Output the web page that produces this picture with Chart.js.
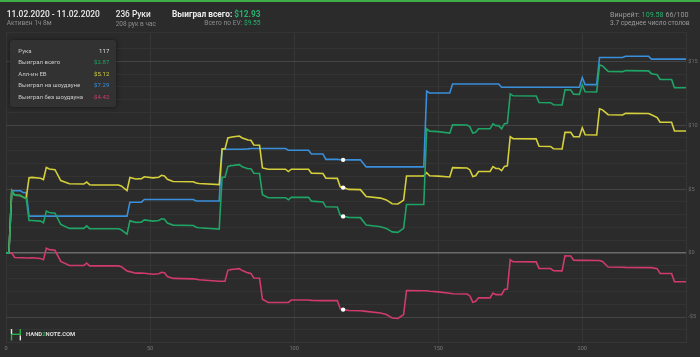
<!DOCTYPE html>
<html><head><meta charset="utf-8">
<script src="https://cdn.jsdelivr.net/npm/chart.js@4/dist/chart.umd.min.js"></script>
<style>
html,body{margin:0;padding:0;background:#2b2b2b;}
#wrap{position:relative;width:700px;height:357px;overflow:hidden;background:#2b2b2b;font-family:Roboto,"Noto Sans",sans-serif;}
#c{position:absolute;left:0;top:0;}
#topbar{position:absolute;left:0;top:0;width:700px;height:2px;background:#3fae49;}
.t{position:absolute;white-space:nowrap;line-height:1;}
.big{font-size:9px;color:#ececec;font-weight:500;}
.bold{font-weight:bold;}
.sm{font-size:6.6px;color:#8c8c8c;}
.rt{font-size:7px;color:#9a9a9a;}
.g{color:#25b06d;}
#tip{position:absolute;left:10px;top:40px;width:106px;height:67px;box-sizing:border-box;padding:5px 6.7px 0 8.3px;background:#323232;border-radius:3px;box-shadow:0 0 5px rgba(0,0,0,0.45);font-size:6.2px;color:#c8c8c8;white-space:nowrap;overflow:hidden;}
#tip .row{display:flex;justify-content:space-between;height:11.4px;line-height:11.4px;white-space:nowrap;}
#tip .row span{white-space:nowrap;flex:none;}
#logo{position:absolute;left:10px;top:329px;}
#logotext{position:absolute;left:26px;top:332px;font-size:6px;font-weight:bold;color:#dcdcdc;line-height:1;}
#measure{position:absolute;left:0;top:0;visibility:hidden;white-space:nowrap;font-size:10px;}
</style></head>
<body>
<div id="wrap">
<canvas id="c" width="700" height="357"></canvas>
<div id="topbar"></div>
<div class="t big" id="dateTxt">11.02.2020 - 11.02.2020</div>
<div class="t sm" id="actTxt">Активен 1ч 8м</div>
<div class="t big" id="handsTxt">236 Руки</div>
<div class="t sm" id="rateTxt">208 рук в час</div>
<div class="t big bold" id="totalTxt"></div>
<div class="t sm" id="evTxt"></div>
<div class="t rt" id="wrTxt">Винрейт: <span class="g">109.58</span> 66/100</div>
<div class="t rt" id="tblTxt">3.7 среднее число столов</div>
<div id="tip"></div>
<span id="measure"></span>
<svg id="logo" width="12" height="12" viewBox="0 0 12 12">
  <rect x="0.8" y="0" width="1.4" height="5" fill="#e6e6e6"/>
  <rect x="0.8" y="5" width="1.4" height="6.5" fill="#2fae4a"/>
  <rect x="2" y="4.6" width="8" height="1.4" fill="#2fae4a"/>
  <rect x="9.6" y="0" width="1.4" height="6" fill="#2fae4a"/>
  <rect x="9.6" y="6.4" width="1.4" height="5" fill="#e6e6e6"/>
</svg>
<div class="t" id="logotext">HAND<span style="color:#2fae4a">2</span>NOTE.COM</div>
</div>
<script>
const hands = [0,1,2,3,5,6,7,8,9,12,13,14,15,17,19,22,27,28,29,30,39,40,42,43,45,47,48,51,53,54,55,56,58,65,66,67,74,75,76,77,78,79,81,82,84,85,86,88,89,91,97,98,99,105,106,110,111,115,116,117,119,123,125,130,132,134,136,137,138,139,145,146,147,150,154,155,160,161,162,163,164,168,169,170,171,172,173,174,175,176,184,185,189,190,193,194,196,197,199,200,201,205,206,207,209,214,215,223,224,226,227,231,232,236];
const wonTotal = [0,0,4.87,4.53,4.5,4.37,4.3,2.55,2.55,2.5,2.37,3.28,3.17,3.12,2.24,1.93,1.93,2.13,1.91,1.9,1.9,1.82,1.48,2.52,2.4,2.42,2.6,2.5,2.55,2.68,2.64,2.35,2.19,2.16,2.02,1.98,1.88,5.93,5.93,6.77,6.84,6.86,6.92,6.75,6.6,6.6,6.24,6.22,4.57,4.33,4.33,4.17,4.36,4.36,4.06,4.0,3.62,3.6,2.95,2.87,2.79,2.77,2.19,2.06,1.93,1.66,1.62,1.78,1.93,3.8,3.8,9.72,9.54,9.5,9.38,10.04,10.02,9.87,9.38,9.45,9.72,9.72,10.1,9.97,9.97,9.72,10.12,10.15,12.45,12.3,12.29,11.77,11.76,11.6,11.58,12.77,12.75,12.42,12.41,13.17,12.62,12.6,14.72,14.64,14.21,14.19,14.27,14.25,14.03,13.95,13.58,13.57,12.93,12.93];
const allInEv = [0,0,4.87,4.53,4.5,4.37,4.3,5.9,5.92,5.85,5.75,6.7,6.58,6.52,5.67,5.42,5.4,5.56,5.35,5.33,5.33,5.25,4.89,5.91,5.79,5.82,5.97,5.88,5.93,6.08,6.03,5.77,5.6,5.58,5.48,5.44,5.35,8.15,8.15,9.0,9.06,9.1,9.15,9.0,8.84,8.82,8.45,8.43,6.66,6.56,6.56,6.38,6.56,6.56,6.25,6.22,5.86,5.84,5.18,5.12,4.98,4.96,4.42,4.3,4.16,3.86,3.84,3.98,4.15,6.03,6.03,6.28,6.05,6.02,5.95,6.68,6.66,6.5,5.98,6.05,6.38,6.38,6.76,6.62,6.62,6.45,6.78,6.82,9.1,8.95,8.93,8.36,8.34,8.16,8.14,9.45,9.44,9.1,9.1,9.8,9.25,9.23,11.28,11.2,10.82,10.8,10.93,10.92,10.82,10.6,10.24,10.23,9.55,9.55];
const wonShowdown = [0,0,4.87,4.87,4.87,4.73,4.73,2.89,2.89,2.89,2.89,2.89,2.89,2.89,2.89,2.89,2.89,2.89,2.89,2.89,2.89,2.89,2.89,3.98,3.98,3.98,4.19,4.19,4.19,4.19,4.19,4.19,4.19,4.19,4.07,4.07,4.07,8.12,8.12,8.12,8.12,8.12,8.12,8.12,8.15,8.18,8.18,8.18,8.18,8.18,8.18,8.04,8.04,8.04,7.75,7.75,7.33,7.33,7.3,7.29,7.29,7.29,6.74,6.74,6.74,6.74,6.74,6.74,6.74,6.74,6.74,12.66,12.52,12.52,12.52,13.22,13.22,13.22,13.22,13.22,13.22,13.22,13.22,13.22,13.22,12.97,12.97,12.97,12.97,12.97,12.97,12.97,12.97,12.97,12.97,12.97,12.97,12.97,12.97,13.72,13.17,13.17,15.3,15.3,15.3,15.3,15.39,15.39,15.17,15.17,15.17,15.17,15.17,15.17];
const wonNoShowdown = [0,0,0,-0.34,-0.36,-0.37,-0.38,-0.38,-0.36,-0.42,-0.52,0.39,0.27,0.22,-0.65,-0.97,-0.97,-0.78,-1.0,-1.0,-1.0,-1.06,-1.4,-1.45,-1.57,-1.57,-1.58,-1.66,-1.62,-1.51,-1.54,-1.83,-1.98,-2.02,-2.04,-2.09,-2.2,-2.2,-2.2,-1.35,-1.29,-1.27,-1.22,-1.37,-1.55,-1.59,-1.95,-1.97,-3.61,-3.86,-3.86,-3.86,-3.67,-3.67,-3.7,-3.72,-3.72,-3.72,-4.35,-4.42,-4.49,-4.51,-4.56,-4.68,-4.81,-5.08,-5.11,-4.96,-4.81,-2.93,-2.94,-2.94,-2.98,-3.03,-3.14,-3.18,-3.2,-3.35,-3.84,-3.77,-3.5,-3.5,-3.12,-3.25,-3.25,-3.25,-2.85,-2.82,-0.52,-0.68,-0.69,-1.2,-1.21,-1.37,-1.39,-0.22,-0.23,-0.56,-0.57,-0.57,-0.57,-0.58,-0.58,-0.66,-1.09,-1.11,-1.12,-1.14,-1.14,-1.22,-1.59,-1.6,-2.24,-2.24];
const seriesNames = ['Выиграл всего','Алл-ин EB','Выиграл на шоудауне','Выиграл без шоудауна'];
const seriesColors = ['#1fa466','#d4cf3a','#3a8fdc','#d03a6e'];
const focusHand = 117;

const fmt = v => (v < 0 ? '-$' : '$') + Math.abs(v).toFixed(2);
const last = a => a[a.length - 1];
document.getElementById('totalTxt').innerHTML = 'Выиграл всего: <span class="g">' + fmt(last(wonTotal)) + '</span>';
document.getElementById('evTxt').innerHTML = 'Всего по EV: <span class="g">' + fmt(last(allInEv)) + '</span>';

const allSeries = [wonTotal, allInEv, wonShowdown, wonNoShowdown];
const fi = hands.indexOf(focusHand);
let tip = '<div class="row"><span>Рука</span><span style="color:#dedede">' + focusHand + '</span></div>';
allSeries.forEach((s, k) => {
  tip += '<div class="row"><span>' + seriesNames[k] + '</span><span style="color:' + seriesColors[k] + '">' + fmt(s[fi]) + '</span></div>';
});
document.getElementById('tip').innerHTML = tip;

// size header texts to the reference widths, keeping baselines
function fit(id, left, width, baseline, alignRight) {
  const el = document.getElementById(id);
  el.style.fontSize = '10px';
  const w = el.getBoundingClientRect().width;
  const fs = 10 * width / w;
  el.style.fontSize = fs + 'px';
  el.style.left = (alignRight ? left - width : left) + 'px';
  el.style.top = (baseline - 0.84 * fs) + 'px';
}
function layoutTexts() {
  fit('dateTxt', 6.7, 93.3, 17.3);
  fit('actTxt', 6.7, 45, 26);
  fit('handsTxt', 115.7, 35, 17.3);
  fit('rateTxt', 115.7, 40.3, 26);
  fit('totalTxt', 172, 88.7, 17.3);
  fit('evTxt', 260.7, 56.4, 26, true);
  fit('wrTxt', 610, 78.7, 16.7);
  fit('tblTxt', 610, 79.7, 26);
  fit('logotext', 26, 49.3, 337.3);
  const m = document.getElementById('measure');
  m.textContent = seriesNames[3];
  const w = m.getBoundingClientRect().width;
  document.getElementById('tip').style.fontSize = (10 * 65 / w) + 'px';
}
layoutTexts();
if (document.fonts && document.fonts.ready) document.fonts.ready.then(layoutTexts);

const mk = (k) => ({
  label: seriesNames[k],
  data: hands.map((h, i) => ({x: h, y: allSeries[k][i]})),
  borderColor: seriesColors[k],
  backgroundColor: seriesColors[k],
  borderWidth: 1.6,
  tension: 0,
  fill: false,
  pointRadius: ctx => (ctx.raw && ctx.raw.x === focusHand) ? 2.2 : 0,
  pointBackgroundColor: '#ffffff',
  pointBorderWidth: 0,
  pointHoverRadius: 0
});

new Chart(document.getElementById('c'), {
  type: 'line',
  data: { datasets: [mk(0), mk(1), mk(2), mk(3)] },
  options: {
    responsive: false,
    animation: false,
    devicePixelRatio: 1,
    layout: { padding: { left: 6, top: 32.5, right: 0, bottom: 0 } },
    plugins: { legend: { display: false }, tooltip: { enabled: false } },
    events: [],
    scales: {
      x: {
        type: 'linear', min: 0, max: 236,
        afterFit: s => { s.height = 14.4; },
        ticks: { stepSize: 50, includeBounds: false, color: '#777777', font: { family: 'Roboto', size: 5.6 }, padding: 2.4, maxRotation: 0, autoSkip: false },
        grid: { color: '#363636', drawTicks: false, lineWidth: 1 },
        border: { color: '#363636' }
      },
      y: {
        position: 'right', min: -7, max: 17.25,
        afterFit: s => { s.width = 14; },
        ticks: {
          stepSize: 1, autoSkip: false, includeBounds: true,
          callback: v => (v % 5 === 0) ? (v < 0 ? '-$' + Math.abs(v) : '$' + v) : '',
          color: '#707070', font: { family: 'Roboto', size: 5.6 }, padding: 2.3
        },
        grid: {
          drawTicks: false,
          color: c => c.tick.value === 0 ? '#6a6a6a' : (c.tick.value % 5 === 0 ? '#444444' : '#333333'),
          lineWidth: c => c.tick.value === 0 ? 1.5 : 1
        },
        border: { color: '#363636' }
      }
    }
  }
});
</script>
</body></html>
